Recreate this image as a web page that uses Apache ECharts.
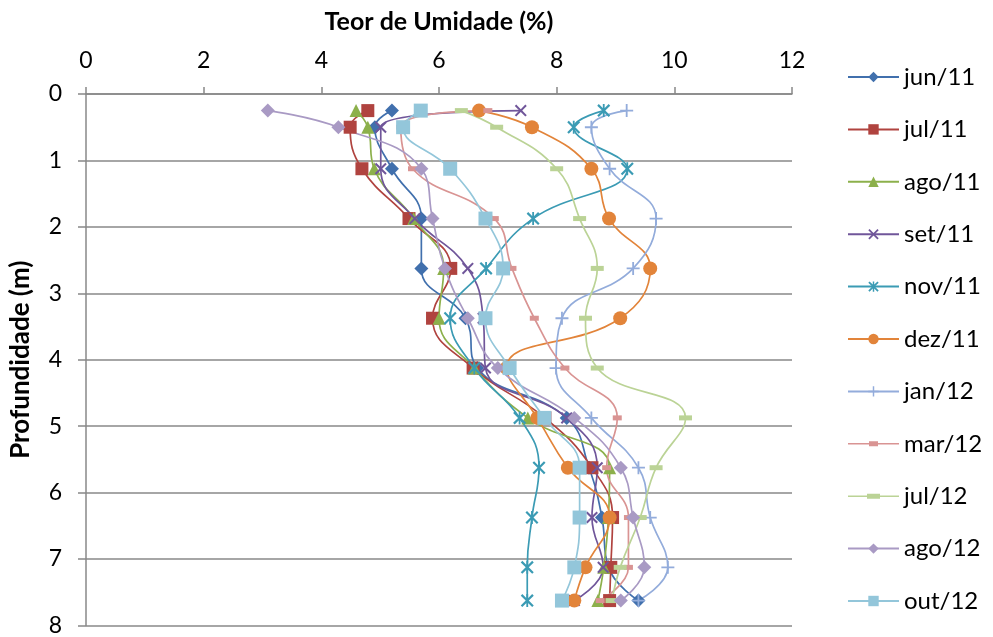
<!DOCTYPE html>
<html>
<head>
<meta charset="utf-8">
<title>Teor de Umidade x Profundidade</title>
<script src="https://cdn.jsdelivr.net/npm/echarts@6/dist/echarts.min.js"></script>
<style>
  html, body { margin: 0; padding: 0; background: #ffffff; }
  #chart { width: 993px; height: 637px; }
</style>
</head>
<body>
<div id="chart"></div>
<script>
// Sampling depths (m) shared by every campaign
const depths = [0.25, 0.5, 1.125, 1.875, 2.625, 3.375, 4.125, 4.875, 5.625, 6.375, 7.125, 7.625];

// Moisture content (%) per campaign, one value per depth above
const jun11 = [5.2, 4.91, 5.2, 5.7, 5.7, 6.45, 6.65, 8.17, 8.55, 8.77, 8.88, 9.39];
const jul11 = [4.79, 4.49, 4.69, 5.49, 6.2, 5.89, 6.58, 7.8, 8.6, 8.95, 8.92, 8.9];
const ago11 = [4.59, 4.79, 4.9, 5.57, 6.08, 6.0, 6.6, 7.51, 8.9, 8.88, 8.8, 8.7];
const set11 = [7.39, 5.01, 5.01, 5.59, 6.49, 6.75, 6.79, 8.17, 8.69, 8.6, 8.79, 8.3];
const nov11 = [8.8, 8.29, 9.2, 7.6, 6.8, 6.19, 6.6, 7.37, 7.7, 7.58, 7.5, 7.5];
const dez11 = [6.68, 7.58, 8.59, 8.89, 9.59, 9.08, 7.15, 7.67, 8.19, 8.9, 8.49, 8.3];
const jan12 = [9.19, 8.59, 8.9, 9.69, 9.3, 8.09, 7.99, 8.59, 9.39, 9.59, 9.89, 9.39];
const mar12 = [6.83, 5.35, 5.55, 6.94, 7.24, 7.62, 8.14, 9.03, 8.85, 9.22, 9.22, 8.74];
const jul12 = [6.38, 6.98, 8.0, 8.39, 8.69, 8.49, 8.69, 10.19, 9.69, 9.42, 9.08, 8.94];
const ago12 = [3.09, 4.29, 5.7, 5.89, 6.1, 6.49, 7.0, 8.3, 9.09, 9.3, 9.49, 9.09];
const out12 = [5.69, 5.39, 6.19, 6.79, 7.09, 6.79, 7.2, 7.79, 8.39, 8.39, 8.3, 8.09];

const seriesNames = ['jun/11', 'jul/11', 'ago/11', 'set/11', 'nov/11', 'dez/11',
                     'jan/12', 'mar/12', 'jul/12', 'ago/12', 'out/12'];
const seriesValues = [jun11, jul11, ago11, set11, nov11, dez11, jan12, mar12, jul12, ago12, out12];

// Axis ticks
const xTicks = [0, 2, 4, 6, 8, 10, 12];
const yTicks = [0, 1, 2, 3, 4, 5, 6, 7, 8];

// Marker shapes
const P_CROSS = 'path://M0,1.2 L1.2,0 L5,3.8 L8.8,0 L10,1.2 L6.2,5 L10,8.8 L8.8,10 L5,6.2 L1.2,10 L0,8.8 L3.8,5 Z';
const P_STAR = 'path://M0,1.2 L1.2,0 L5,3.8 L8.8,0 L10,1.2 L6.2,5 L10,8.8 L8.8,10 L5,6.2 L1.2,10 L0,8.8 L3.8,5 Z M4.3,0 L5.7,0 L5.7,10 L4.3,10 Z';
const P_PLUS = 'path://M4.3,0 L5.7,0 L5.7,4.3 L10,4.3 L10,5.7 L5.7,5.7 L5.7,10 L4.3,10 L4.3,5.7 L0,5.7 L0,4.3 L4.3,4.3 Z';

// Legend icons (line + short bar) for the two dash-marked campaigns
const L_DASH = 'path://M0,1.7 L51,1.7 L51,3.3 L0,3.3 Z M21,0 L30,0 L30,5 L21,5 Z';
const L_LDASH = 'path://M0,1.7 L51,1.7 L51,3.3 L0,3.3 Z M19,0 L32,0 L32,5 L19,5 Z';

const styles = [
  { color: '#4170ad', symbol: 'diamond', size: 14 },
  { color: '#b0433f', symbol: 'rect', size: 13 },
  { color: '#8cb04b', symbol: 'triangle', size: 13 },
  { color: '#70569a', symbol: P_CROSS, size: 12 },
  { color: '#3b9bb4', symbol: P_STAR, size: 13 },
  { color: '#e2843a', symbol: 'circle', size: 14 },
  { color: '#93acdb', symbol: P_PLUS, size: 13 },
  { color: '#d99493', symbol: 'rect', size: [9, 5], legendIcon: L_DASH },
  { color: '#bbd396', symbol: 'rect', size: [13, 5], legendIcon: L_LDASH },
  { color: '#a99ac4', symbol: 'diamond', size: 14 },
  { color: '#93c6da', symbol: 'rect', size: 14 }
];

const FONT = 'Lato, "Open Sans", "Noto Sans", sans-serif';
const AXIS_GRAY = '#888888';

const series = seriesNames.map((name, i) => ({
  name: name,
  type: 'line',
  smooth: 0.45,
  symbol: styles[i].symbol,
  symbolSize: styles[i].size,
  symbolKeepAspect: true,
  showAllSymbol: true,
  lineStyle: { color: styles[i].color, width: 1.7 },
  itemStyle: { color: styles[i].color },
  emphasis: { disabled: true },
  animation: false,
  data: seriesValues[i].map((v, k) => [v, depths[k]])
}));

const legendData = seriesNames.map((name, i) =>
  styles[i].legendIcon ? { name: name, icon: styles[i].legendIcon } : { name: name });

const chart = echarts.init(document.getElementById('chart'), null, { renderer: 'canvas' });

chart.setOption({
  backgroundColor: '#ffffff',
  animation: false,
  grid: { left: 85, right: 201, top: 94, bottom: 11, containLabel: false },
  xAxis: {
    type: 'value',
    position: 'top',
    min: xTicks[0],
    max: xTicks[xTicks.length - 1],
    interval: 2,
    name: 'Teor de Umidade (%)',
    nameLocation: 'middle',
    nameGap: 60,
    nameTextStyle: { fontFamily: FONT, fontSize: 25, fontWeight: 'bold', color: '#000' },
    axisLine: { show: true, lineStyle: { color: AXIS_GRAY, width: 1.5 } },
    axisTick: { show: true, inside: false, length: 7, lineStyle: { color: AXIS_GRAY, width: 1.5 } },
    axisLabel: { margin: 22, fontFamily: FONT, fontSize: 23, color: '#000' },
    splitLine: { show: false }
  },
  yAxis: {
    type: 'value',
    inverse: true,
    min: yTicks[0],
    max: yTicks[yTicks.length - 1],
    interval: 1,
    name: 'Profundidade (m)',
    nameLocation: 'middle',
    nameGap: 52,
    nameRotate: 90,
    nameTextStyle: { fontFamily: FONT, fontSize: 26, fontWeight: 'bold', color: '#000' },
    axisLine: { show: true, onZero: false, lineStyle: { color: AXIS_GRAY, width: 1.5 } },
    axisTick: { show: true, inside: false, length: 8, lineStyle: { color: AXIS_GRAY, width: 1.5 } },
    axisLabel: { margin: 24, fontFamily: FONT, fontSize: 23, color: '#000' },
    splitLine: { show: true, lineStyle: { color: AXIS_GRAY, width: 1.5 } }
  },
  legend: {
    show: true,
    orient: 'vertical',
    left: 842,
    top: 60,
    itemWidth: 51,
    itemHeight: 13,
    itemGap: 28.4,
    symbolKeepAspect: true,
    textStyle: { fontFamily: FONT, fontSize: 24, color: '#000', lineHeight: 20 },
    data: legendData
  },
  series: series
});
</script>
</body>
</html>
